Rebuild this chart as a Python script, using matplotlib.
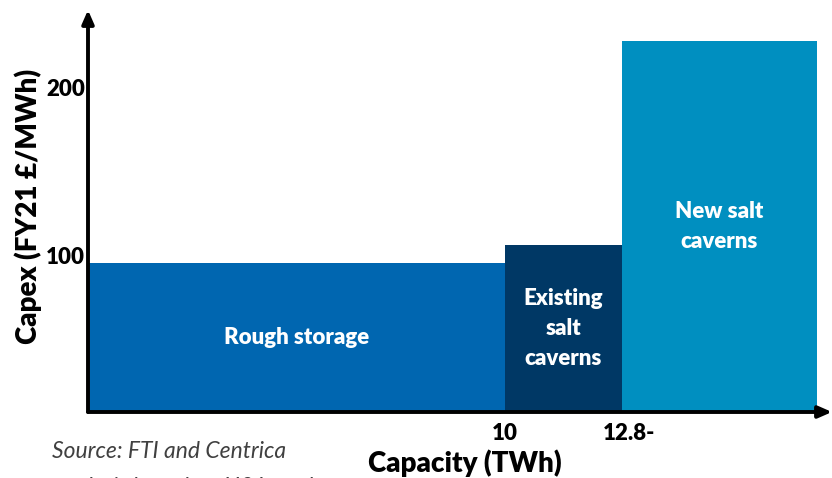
import matplotlib.pyplot as plt
from matplotlib.transforms import ScaledTranslation

# Storage options: capacity ranges (TWh) and capex (FY21 £/MWh)
options = ['Rough storage', 'Existing\nsalt\ncaverns', 'New salt\ncaverns']
cap_start = [0, 10, 12.8]
cap_end = [10, 12.8, 17.5]
capex = [92, 103, 229]
colors = ['#0066b0', '#003865', '#008fc0']

y_ticks = [100, 200]
x_ticks = [10, 12.8]
x_tick_labels = ['10', '12.8-']

plt.rcParams['font.family'] = ['Lato', 'DejaVu Sans']

fig = plt.figure(figsize=(8.32, 4.78), dpi=100)
ax = fig.add_axes([88 / 832, 66 / 478, 744 / 832, 402 / 478])
ax.set_xlim(0, 17.85)
ax.set_ylim(0, 248)

for name, x0, x1, h, c in zip(options, cap_start, cap_end, capex, colors):
    ax.bar(x0, h, width=x1 - x0, align='edge', color=c, linewidth=0)
    ax.text((x0 + x1) / 2, h / 2, name, ha='center', va='center',
            color='white', fontsize=16, fontweight='heavy', linespacing=1.55)

# axes drawn as arrows
for sp in ax.spines.values():
    sp.set_visible(False)
arrow = dict(arrowstyle='-|>,head_width=0.35,head_length=0.8', lw=2.8, color='black',
             shrinkA=0, shrinkB=0)
ax.annotate('', xy=(1, 0), xytext=(0, 0), xycoords='axes fraction', arrowprops=arrow)
ax.annotate('', xy=(0, 1), xytext=(0, 0), xycoords='axes fraction', arrowprops=arrow)

ax.set_yticks(y_ticks)
ax.set_yticklabels([str(t) for t in y_ticks], fontsize=16, fontweight='heavy')
ax.set_xticks(x_ticks)
ax.set_xticklabels(x_tick_labels, fontsize=16, fontweight='heavy')
ax.tick_params(length=0, pad=2)
ax.tick_params(axis='x', pad=8)
lbl = ax.get_xticklabels()[1]
lbl.set_transform(lbl.get_transform() + ScaledTranslation(0.08, 0, fig.dpi_scale_trans))
lbl = ax.get_yticklabels()[0]
lbl.set_transform(lbl.get_transform() + ScaledTranslation(0, -0.06, fig.dpi_scale_trans))

fig.text(28 / 832, 1 - 206 / 478, 'Capex (FY21 £/MWh)', rotation=90, ha='center',
         va='center', fontsize=20, fontweight='heavy')
fig.text(465 / 832, 1 - 463 / 478, 'Capacity (TWh)', ha='center', va='center',
         fontsize=20, fontweight='heavy')

fig.text(52 / 832, 1 - 452 / 478, 'Source: FTI and Centrica', ha='left', va='center',
         fontsize=16.5, style='italic', color='#404040')
fig.text(52 / 832, 1 - 487 / 478, 'analysis based on H21 study', ha='left', va='center',
         fontsize=16.5, style='italic', color='#404040')

fig.savefig('out.png', dpi=100)
